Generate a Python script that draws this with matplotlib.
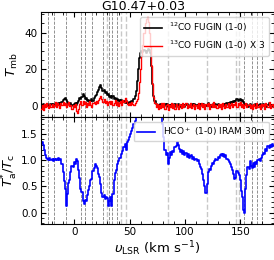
import numpy as np
import matplotlib
matplotlib.use("Agg")
import matplotlib.pyplot as plt
from matplotlib.ticker import AutoMinorLocator, MultipleLocator

title = "G10.47+0.03"
v_start, v_step = -30.0, 1.0

co12 = [
    0.3, -0.5, 1.0, 0.2, -0.8, 0.6, 1.2, 0.0, -0.6, 0.9,
    0.4, 1.3, -0.2, 0.7, 1.1, 0.3, 1.5, 0.8, 1.6, 2.2,
    3.2, 4.0, 4.6, 3.1, 2.0, 1.2, 0.5, 1.4, 0.8, 0.2,
    0.9, 1.6, 0.6, 1.8, 2.5, 4.2, 3.6, 5.0, 6.8, 5.5,
    3.8, 4.3, 2.6, 3.4, 2.2, 3.0, 3.8, 2.9, 4.1, 5.2,
    6.0, 7.4, 8.9, 10.2, 11.2, 9.6, 8.0, 8.8, 6.9, 7.5,
    5.8, 6.6, 4.9, 5.7, 4.4, 5.2, 3.6, 4.6, 3.2, 4.0,
    2.7, 3.5, 2.4, 3.3, 2.1, 2.9, 1.6, 2.5, 1.9, 1.2,
    2.4, 1.5, 3.0, 2.2, 4.0, 5.5, 8.0, 13.5, 20.0, 26.0,
    29.0, 30.0, 29.5, 30.5, 30.0, 29.0, 30.2, 31.0, 30.5, 29.0,
    22.0, 12.0, 5.5, 2.5, 1.0, 0.2, -0.8, 0.5, 1.2, -0.4,
    0.6, -0.3, 0.9, 0.2, 1.0, -0.5, 0.7, 0.1, 0.8, -0.2,
    0.5, 1.0, -0.4, 0.3, 0.9, 0.0, -0.6, 0.6, 0.2, 0.8,
    -0.3, 0.4, 1.1, 0.2, -0.5, 0.7, 0.3, 0.9, 0.1, 1.2,
    0.5, -0.2, 0.8, 1.3, 0.4, 0.9, 0.2, 1.1, 0.6, 0.0,
    0.7, 1.4, 0.3, 0.8, -0.4, 0.5, 1.0, 0.2, 0.9, 0.4,
    1.1, 0.3, 0.8, -0.2, 0.6, 1.2, 0.4, 0.9, 1.4, 0.7,
    1.5, 2.1, 1.3, 2.4, 2.9, 2.2, 3.0, 3.6, 2.8, 3.5,
    3.8, 2.6, 3.2, 2.0, 1.2, 0.6, 1.0, -0.3, 0.5, 0.9,
    0.2, -0.6, 0.8, 0.3, 1.0, -0.2, 0.6, 0.1, 0.9, -0.4,
    0.4, 1.2, 0.0, 0.7, -0.5, 0.5, 1.6, 0.3, -0.3, 0.8,
    0.2,
]

co13x3 = [
    -1.5, 0.5, -2.0, 1.0, -0.5, 1.8, 0.2, -1.2, 0.9, -0.3,
    1.2, -0.8, 0.6, 2.0, -0.4, 1.5, 0.8, -1.0, 1.9, 0.3,
    2.2, 0.5, 1.6, -0.6, 1.0, 2.4, -0.2, 0.8, -1.4, 0.6,
    -0.5, 1.3, -2.8, -4.0, -1.5, 1.0, 2.5, 0.4, 3.0, 1.2,
    2.0, -0.5, 1.8, 0.6, 2.6, 0.8, -0.3, 1.5, 2.2, 0.9,
    2.8, 1.5, 3.4, 4.5, 5.6, 3.6, 2.0, 3.8, 1.4, 2.6,
    0.8, 2.2, 3.0, 1.2, 2.6, 0.5, 1.8, 3.2, 0.6, 2.0,
    0.2, 1.6, 2.8, 0.8, 3.5, 2.2, 4.6, 3.0, 1.2, 0.4,
    1.8, 0.6, 2.2, 1.0, 0.5, 1.6, 2.5, 4.0, 7.0, 13.0,
    20.0, 27.0, 33.0, 40.0, 45.0, 47.5, 48.5, 46.0, 40.0, 32.0,
    22.0, 12.0, 5.0, 1.5, -0.8, 1.2, -1.8, 0.6, -1.0, 1.4,
    -0.6, 1.8, -1.4, 0.5, 1.0, -2.0, 0.8, -0.4, 1.6, -1.2,
    0.9, -1.6, 1.3, -0.2, -1.9, 1.1, 0.3, -1.0, 1.7, -0.7,
    0.4, 1.5, -1.3, 0.8, -0.5, 1.9, -1.1, 0.2, 1.2, -1.7,
    0.7, -0.9, 1.6, -1.4, 0.5, 1.8, -0.6, 0.9, -1.5, 1.0,
    -0.2, 1.4, -1.8, 0.6, 1.1, -0.8, 2.0, -0.4, 0.8, -1.3,
    1.3, -0.5, 0.9, -1.6, 1.5, 0.2, -1.1, 1.0, -0.3, 1.7,
    -0.9, 0.6, 1.8, -0.4, 1.2, 0.3, 2.0, -0.6, 1.4, 0.8,
    2.2, -0.3, 1.0, -1.2, 0.7, 1.6, -0.8, 0.4, 1.3, -1.0,
    0.6, -1.7, 1.2, 0.1, -0.9, 1.5, -0.4, 0.8, -1.4, 1.1,
    -0.2, 0.9, -1.5, 1.6, 0.3, -0.7, 2.1, -1.3, 0.5, 1.0,
    -0.4,
]

hco = [
    1.33, 1.36, 1.30, 1.20, 1.10, 1.05, 1.03, 1.00, 1.04, 1.01,
    1.03, 0.99, 1.02, 1.00, 1.03, 1.01, 1.04, 1.00, 1.03, 0.93,
    0.78, 0.60, 0.45, 0.12, 0.35, 0.56, 0.62, 0.78, 0.90, 0.88,
    0.96, 0.93, 1.02, 0.99, 0.82, 0.66, 0.45, 0.40, 0.22, 0.17,
    0.24, 0.22, 0.34, 0.43, 0.50, 0.62, 0.65, 0.80, 0.86, 0.92,
    0.90, 0.85, 0.74, 0.68, 0.55, 0.38, 0.30, 0.34, 0.26, 0.30,
    0.28, 0.12, 0.22, 0.30, 0.12, 0.36, 0.62, 0.75, 0.82, 0.92,
    0.98, 1.05, 1.04, 1.12, 1.18, 1.26, 1.32, 1.20, 1.36, 1.38,
    1.44, 1.50, 1.56, 1.62, 1.70, 1.76, 1.86, 2.00, 2.20, 2.40,
    2.60, 2.80, 3.00, 3.20, 3.30, 3.30, 3.20, 3.00, 2.90, 2.80,
    2.70, 2.60, 2.50, 2.40, 2.30, 2.20, 2.10, 2.00, 1.95, 1.90,
    1.70, 1.45, 1.20, 1.10, 1.14, 0.92, 1.05, 1.16, 1.10, 1.18,
    1.15, 1.25, 1.28, 1.36, 1.30, 1.22, 1.16, 1.20, 1.12, 1.18,
    1.10, 1.14, 1.06, 1.12, 1.04, 1.08, 1.10, 1.02, 1.06, 1.00,
    1.03, 0.98, 1.01, 0.92, 0.88, 0.84, 0.74, 0.62, 0.50, 0.37,
    0.55, 0.78, 0.84, 0.82, 0.90, 0.94, 0.92, 0.98, 1.02, 1.00,
    1.06, 1.04, 1.10, 1.12, 1.08, 1.13, 1.06, 1.10, 1.02, 1.00,
    0.96, 0.93, 0.88, 0.82, 0.74, 0.64, 0.66, 0.80, 0.76, 0.72,
    0.62, 0.42, 0.30, 0.05, -0.01, 0.45, 0.72, 0.88, 0.84, 0.98,
    0.90, 0.86, 0.94, 0.88, 0.96, 0.92, 1.00, 1.02, 0.98, 1.04,
    1.10, 1.14, 1.12, 1.22, 1.18, 1.28, 1.24, 1.30, 1.26, 1.32,
    1.28,
]

dark_lines = [-24, -18.5, -7.5, 6, 9.5, 16.5, 26, 31, 34, 38.5, 153, 161, 165.5, 170]
light_lines = [29.5, 42.5, 47, 84.5, 119.5, 146, 149]

lab12 = r"$^{12}$CO FUGIN (1-0)"
lab13 = r"$^{13}$CO FUGIN (1-0) X 3"
labhco = r"HCO$^+$ (1-0) IRAM 30m"

v = v_start + v_step * np.arange(len(co12))

fig = plt.figure(figsize=(2.74, 2.60), dpi=100)
L, R = 41 / 274, 273.5 / 274
ax1 = fig.add_axes([L, 1 - 117 / 260, R - L, (117 - 12.5) / 260])
ax2 = fig.add_axes([L, 1 - 224 / 260, R - L, (224 - 117) / 260], sharex=ax1)

for ax in (ax1, ax2):
    for x in dark_lines:
        ax.axvline(x, color="#808080", ls="--", lw=0.6, zorder=0)
    for x in light_lines:
        ax.axvline(x, color="#c8c8c8", ls="--", lw=1.0, zorder=0)

ax1.plot(v, co12, color="black", lw=1.2, drawstyle="steps-mid", label=lab12, zorder=2)
ax1.plot(v, co13x3, color="red", lw=1.0, drawstyle="steps-mid", label=lab13, zorder=3)
ax2.plot(v, hco, color="blue", lw=1.2, drawstyle="steps-mid", label=labhco, zorder=2)

ax1.set_xlim(-30, 180)
ax1.set_ylim(-6, 51)
ax2.set_ylim(-0.22, 1.83)
ax1.yaxis.set_major_locator(MultipleLocator(20))
ax2.yaxis.set_major_locator(MultipleLocator(0.5))
ax2.xaxis.set_major_locator(MultipleLocator(50))
for ax in (ax1, ax2):
    ax.xaxis.set_minor_locator(AutoMinorLocator())
    ax.yaxis.set_minor_locator(AutoMinorLocator())
    ax.tick_params(which="both", direction="in", top=True, right=True, labelsize=7.5)
    ax.tick_params(which="major", length=3.5, width=0.8, pad=2.5)
    ax.tick_params(which="minor", length=2, width=0.6)
plt.setp(ax1.get_xticklabels(), visible=False)

ax1.set_ylabel(r"$T_{\rm mb}$", fontsize=9.5)
ax2.set_ylabel(r"$T_{\rm a}^{*}/T_{\rm c}$", fontsize=9.5)
ax1.yaxis.set_label_coords(-0.092, 0.5)
ax2.yaxis.set_label_coords(-0.092, 0.5)
ax2.set_xlabel(r"$\upsilon_{\rm LSR}$ (km s$^{-1}$)", fontsize=9.5, labelpad=1)

ax1.legend(loc="upper right", fontsize=6.5, handlelength=2.0)
ax2.legend(loc="upper right", fontsize=6.5, handlelength=2.0)

fig.text(143 / 274, 1 - 7 / 260, title, ha="center", va="center", fontsize=9)

fig.savefig("out.png", dpi=100)
